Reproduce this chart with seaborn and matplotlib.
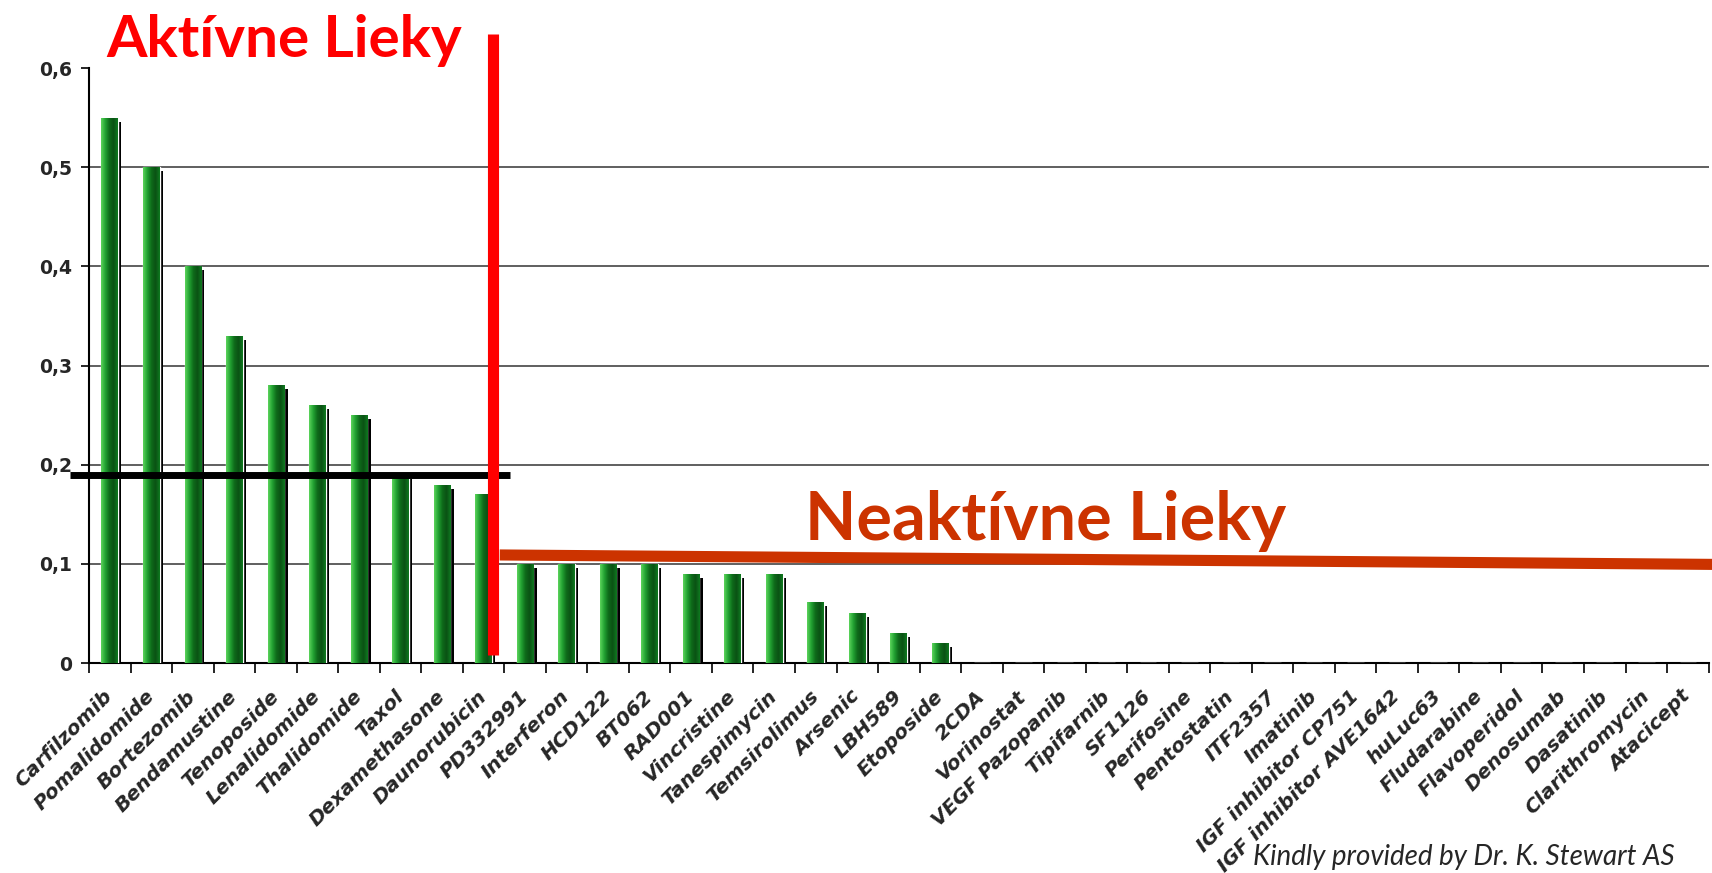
import numpy as np
import pandas as pd
import matplotlib
matplotlib.use("Agg")
import matplotlib.pyplot as plt
from matplotlib.colors import LinearSegmentedColormap
from matplotlib.patches import Rectangle
from matplotlib.ticker import FuncFormatter, FixedLocator
import seaborn as sns

# Data
drugs = [
    "Carfilzomib", "Pomalidomide", "Bortezomib", "Bendamustine", "Tenoposide",
    "Lenalidomide", "Thalidomide", "Taxol", "Dexamethasone", "Daunorubicin",
    "PD332991", "Interferon", "HCD122", "BT062", "RAD001", "Vincristine",
    "Tanespimycin", "Temsirolimus", "Arsenic", "LBH589", "Etoposide", "2CDA",
    "Vorinostat", "VEGF Pazopanib", "Tipifarnib", "SF1126", "Perifosine",
    "Pentostatin", "ITF2357", "Imatinib", "IGF inhibitor CP751",
    "IGF inhibitor AVE1642", "huLuc63", "Fludarabine", "Flavoperidol",
    "Denosumab", "Dasatinib", "Clarithromycin", "Atacicept",
]
response = [
    0.55, 0.50, 0.40, 0.33, 0.28, 0.26, 0.25, 0.19, 0.18, 0.17,
    0.10, 0.10, 0.10, 0.10, 0.09, 0.09, 0.09, 0.062, 0.05, 0.03, 0.02,
    0, 0, 0, 0, 0, 0, 0, 0, 0, 0, 0, 0, 0, 0, 0, 0, 0, 0,
]
y_ticks = [0, 0.1, 0.2, 0.3, 0.4, 0.5, 0.6]
active_cutoff = 0.19

df = pd.DataFrame({"drug": drugs, "response": response})

sns.set_theme(style="white")
plt.rcParams["font.family"] = ["DejaVu Sans"]

fig = plt.figure(figsize=(17.12, 8.73), dpi=100)
ax = fig.add_axes([0.052, 0.2405, 0.946, 0.6815])

sns.barplot(data=df, x="drug", y="response", color="#137F26", width=0.4,
            saturation=1, ax=ax, zorder=3)

# gradient + dark shadow on every bar
green = LinearSegmentedColormap.from_list(
    "g", ["#5CD45C", "#22A232", "#0E6A1A", "#0A5214", "#0F7A20"])
grad = np.linspace(0, 1, 64).reshape(1, -1)
for p in list(ax.patches):
    x0, w, h = p.get_x(), p.get_width(), p.get_height()
    if h <= 0:
        continue
    shadow = Rectangle((x0 + w * 0.2, 0), w, h - 0.004, color="black",
                       zorder=2, linewidth=0)
    ax.add_patch(shadow)
    im = ax.imshow(grad, cmap=green, aspect="auto", extent=(x0, x0 + w, 0, h),
                   zorder=4, interpolation="bilinear")
    im.set_clip_path(p)

ax.set_xlim(-0.5, len(drugs) - 0.5)
ax.set_ylim(0, 0.6)

# grid lines
for t in y_ticks[1:-1]:
    ax.axhline(t, color="#444444", lw=1.2, zorder=1)

ax.set_yticks(y_ticks)
ax.yaxis.set_major_formatter(FuncFormatter(
    lambda v, _: "0" if v == 0 else f"{v:.1f}".replace(".", ",")))
for lab in ax.get_yticklabels():
    lab.set_fontweight("bold")
    lab.set_fontsize(13.5)
ax.tick_params(axis="y", length=6, width=1.2, color="black", pad=6, left=True)

ax.xaxis.set_minor_locator(FixedLocator(np.arange(-0.5, len(drugs), 1.0)))
ax.tick_params(axis="x", which="minor", length=7, width=1.2, color="black",
               bottom=True)
ax.tick_params(axis="x", which="major", length=0, pad=22)
ax.set_xticks(range(len(drugs)))
ax.set_xticklabels(drugs, rotation=45, ha="right", va="center",
                   rotation_mode="anchor", fontsize=14.5, fontweight="bold",
                   fontstyle="italic")
ax.set_xlabel("")
ax.set_ylabel("")

for s in ["top", "right"]:
    ax.spines[s].set_visible(False)
for s in ["left", "bottom"]:
    ax.spines[s].set_color("black")
    ax.spines[s].set_linewidth(1.5)

# cutoff lines
ax.plot([-0.95, 9.63], [active_cutoff, active_cutoff], color="black", lw=5,
        zorder=6, clip_on=False, solid_capstyle="butt")
ax.plot([9.23, 9.23], [0.008, 0.634], color="#FF0000", lw=8, zorder=7,
        clip_on=False, solid_capstyle="butt")
ax.plot([9.39, 38.6], [0.109, 0.0995], color="#CC3300", lw=8, zorder=6,
        clip_on=False, solid_capstyle="butt")

fig.text(0.062, 0.935, "Aktívne Lieky", color="#FF0000", fontsize=42,
         fontweight="bold", family=["Lato", "DejaVu Sans"], va="baseline")
fig.text(0.470, 0.381, "Neaktívne Lieky", color="#CC3300", fontsize=48,
         fontweight="bold", family=["Lato", "DejaVu Sans"], va="baseline")
fig.text(0.732, 0.004, "Kindly provided by Dr. K. Stewart AS", fontsize=20,
         fontstyle="italic", family=["Lato", "DejaVu Sans"], va="bottom")

fig.savefig("out.png", dpi=100)
